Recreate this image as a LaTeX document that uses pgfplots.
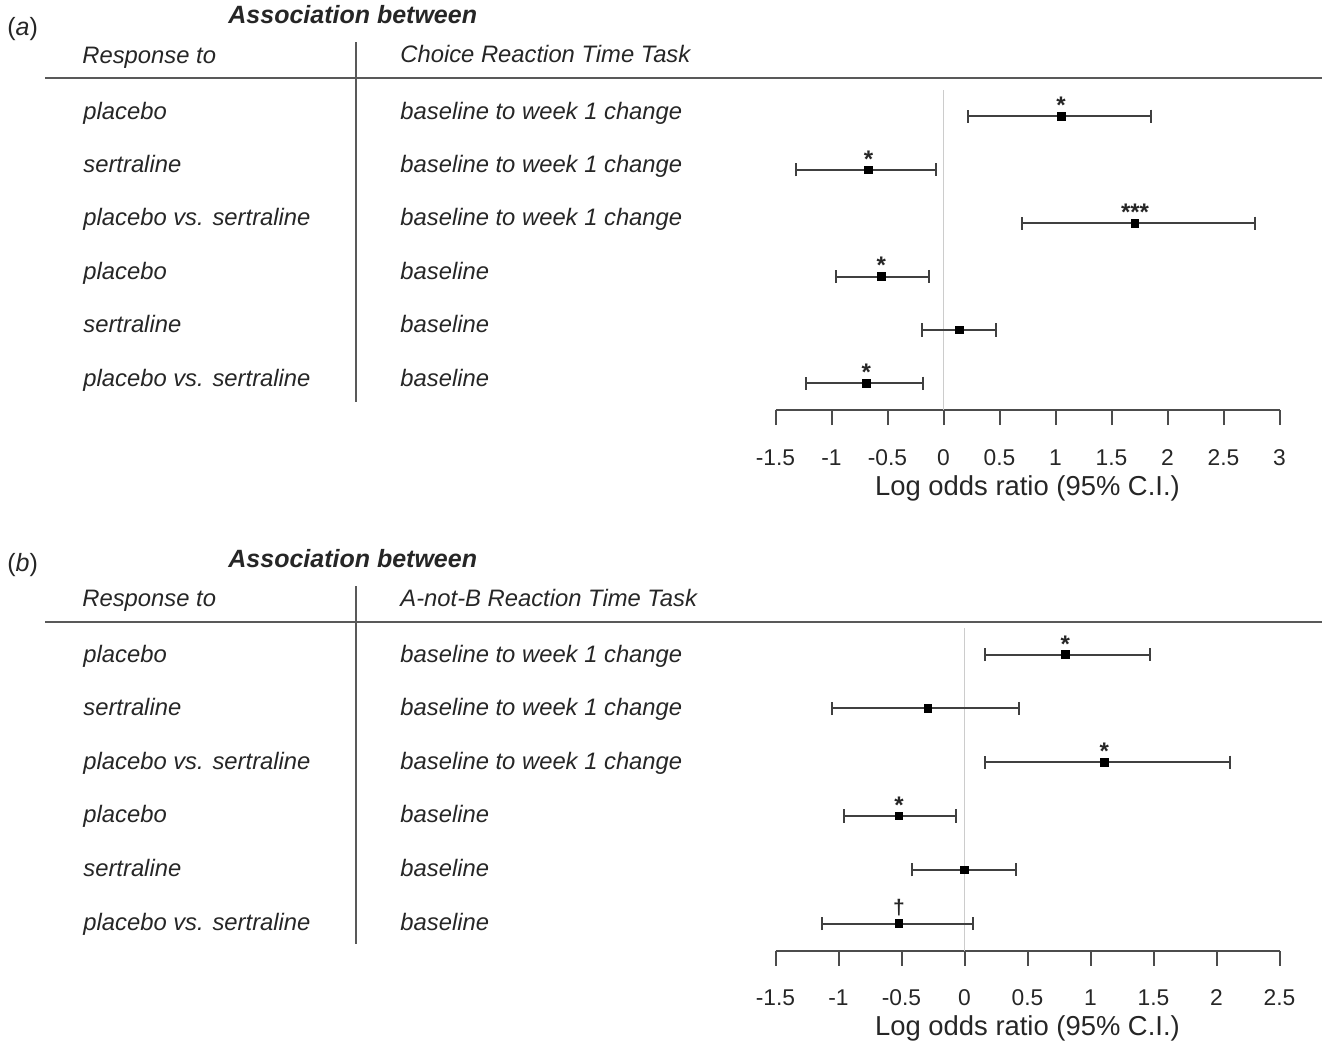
\documentclass[border=0pt]{standalone}
\usepackage{pgfplots}
\pgfplotsset{compat=1.18}
\usepackage{pgfplotstable}
\usepackage{fontspec}
\setmainfont{Liberation Sans}

\protected\def\ns{}
\protected\def\dg{\raisebox{3.5pt}{\fontsize{10.5}{10}\selectfont\bfseries †}}
\newcommand\lab{\fontsize{11.9}{14}\selectfont\itshape}
\newcommand\head{\fontsize{12.5}{15}\selectfont\bfseries\itshape}

% log odds ratio, 95% CI, significance
\pgfplotstableread{
x      y  lo     hi    sig
1.05   6  0.22   1.85  *
-0.67  5  -1.32  -0.07 *
1.71   4  0.70   2.78  ***
-0.555 3  -0.96  -0.13 *
0.14   2  -0.19  0.47  \ns
-0.69  1  -1.23  -0.18 *
}\tabA

\pgfplotstableread{
x      y  lo     hi    sig
0.80   6  0.16   1.47  *
-0.29  5  -1.05  0.43  \ns
1.11   4  0.16   2.11  *
-0.52  3  -0.96  -0.07 *
0.00   2  -0.42  0.41  \ns
-0.52  1  -1.13  0.07  \dg
}\tabB

\pgfplotsset{forest/.style={
  scale only axis, width=252pt, anchor=south west,
  xmin=-1.5, ymin=0.5, ymax=6.5,
  axis x line*=bottom, axis y line=none, ytick=\empty,
  axis line style={-},
  x axis line style={-, line width=1pt, black!70},
  tick align=outside, major tick length=7.5pt,
  xtick style={line width=1pt, black!70},
  /pgf/number format/assume math mode=true,
  xticklabel style={font=\fontsize{11.4}{12}\selectfont, text=black!85, anchor=base, yshift=-20pt},
  xlabel={Log odds ratio (95\% C.I.)},
  xlabel style={at={(axis description cs:0.5,0)}, anchor=base, yshift=-42.5pt,
    font=\fontsize{13.7}{15}\selectfont, text=black!85},
  clip=false,
}}
\pgfplotsset{ci/.style={only marks, mark=square*, mark size=1.9pt, black,
  point meta=explicit symbolic,
  nodes near coords,
  nodes near coords style={font=\fontsize{12}{12}\selectfont\bfseries, text=black!85,
    anchor=base, inner sep=0pt, yshift=1.3pt},
  error bars/.cd, x dir=both, x explicit,
  error bar style={line width=1pt, black!75},
  error mark options={rotate=90, line width=1pt, black!75, mark size=3.3pt}}}

\begin{document}
\begin{tikzpicture}
\begin{scope}[x=0.5pt,y=-0.5pt]
\path (0,0) rectangle (1324,1044);
\begin{scope}[every node/.style={anchor=base west, inner sep=0pt, text=black!85}]
% panel (a)
\node[font=\fontsize{12.5}{15}\selectfont] at (7,35) {(\textit{a})};
\node[font=\head] at (228,23) {Association between};
\node[font=\lab] at (82,63) {Response to};
\node[font=\lab] at (400,62) {Choice Reaction Time Task};
\foreach \r/\a [count=\i from 0] in {placebo/baseline to week 1 change,
  sertraline/baseline to week 1 change, placebo vs. sertraline/baseline to week 1 change,
  placebo/baseline, sertraline/baseline, placebo vs. sertraline/baseline} {
  \node[font=\lab] at (83,119+53.4*\i) {\r};
  \node[font=\lab] at (400,119+53.4*\i) {\a};
}
% panel (b)
\node[font=\fontsize{12.5}{15}\selectfont] at (7,571) {(\textit{b})};
\node[font=\head] at (228,567) {Association between};
\node[font=\lab] at (82,606) {Response to};
\node[font=\lab] at (400,606) {A-not-B Reaction Time Task};
\foreach \r/\a [count=\i from 0] in {placebo/baseline to week 1 change,
  sertraline/baseline to week 1 change, placebo vs. sertraline/baseline to week 1 change,
  placebo/baseline, sertraline/baseline, placebo vs. sertraline/baseline} {
  \node[font=\lab] at (83,662+53.6*\i) {\r};
  \node[font=\lab] at (400,662+53.6*\i) {\a};
}
\end{scope}
\draw[black!65, line width=0.8pt] (45,78) -- (1322,78);
\draw[black!65, line width=0.8pt] (356,42) -- (356,402);
\draw[black!65, line width=0.8pt] (45,622) -- (1322,622);
\draw[black!65, line width=0.8pt] (356,586) -- (356,944);
\end{scope}

\begin{axis}[forest, at={(387.75pt,-205pt)}, height=160.2pt,
  xmax=3, xtick={-1.5,-1,...,3}]
\addplot[black!20, line width=0.5pt, forget plot] coordinates {(0,0.5) (0,6.5)};
\addplot[ci] table[x=x, y=y, meta=sig,
  x error plus expr=\thisrow{hi}-\thisrow{x},
  x error minus expr=\thisrow{x}-\thisrow{lo}] {\tabA};
\end{axis}

\begin{axis}[forest, at={(387.75pt,-475.25pt)}, height=161.4pt,
  xmax=2.5, xtick={-1.5,-1,...,2.5}]
\addplot[black!20, line width=0.5pt, forget plot] coordinates {(0,0.5) (0,6.5)};
\addplot[ci] table[x=x, y=y, meta=sig,
  x error plus expr=\thisrow{hi}-\thisrow{x},
  x error minus expr=\thisrow{x}-\thisrow{lo}] {\tabB};
\end{axis}
\end{tikzpicture}
\end{document}
